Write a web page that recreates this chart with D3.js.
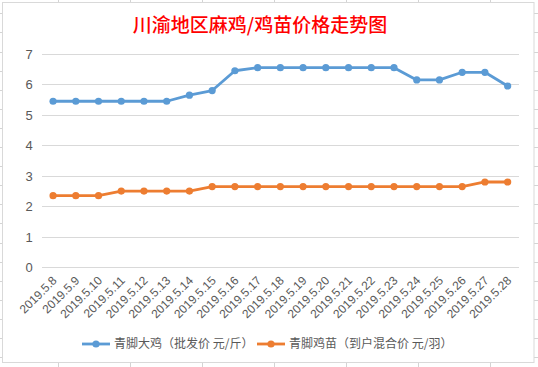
<!DOCTYPE html>
<html><head><meta charset="utf-8">
<script src="https://cdn.jsdelivr.net/npm/d3@7"></script>
<style>html,body{margin:0;padding:0;background:#fff;}svg{display:block;}</style>
</head><body>
<script>
const title = "川渝地区麻鸡/鸡苗价格走势图";
const categories = ["2019.5.8","2019.5.9","2019.5.10","2019.5.11","2019.5.12","2019.5.13","2019.5.14","2019.5.15","2019.5.16","2019.5.17","2019.5.18","2019.5.19","2019.5.20","2019.5.21","2019.5.22","2019.5.23","2019.5.24","2019.5.25","2019.5.26","2019.5.27","2019.5.28"];
const seriesNames = ["青脚大鸡（批发价 元/斤）","青脚鸡苗（到户混合价 元/羽）"];
const bigChicken = [5.45,5.45,5.45,5.45,5.45,5.45,5.65,5.8,6.45,6.55,6.55,6.55,6.55,6.55,6.55,6.55,6.15,6.15,6.4,6.4,5.95];
const chicks = [2.35,2.35,2.35,2.5,2.5,2.5,2.5,2.65,2.65,2.65,2.65,2.65,2.65,2.65,2.65,2.65,2.65,2.65,2.65,2.8,2.8];
const yTicks = [0,1,2,3,4,5,6,7];
const colors = ["#5b9bd5","#ed7d31"];

const W = 538, H = 367;
const svg = d3.select("body").append("svg").attr("width", W).attr("height", H);

// spreadsheet background grid
const bg = svg.append("g");
for (let k = 0; 58.3 + k*71.95 < W; k++) {
  const x = Math.round(58.3 + k*71.95) + 0.5;
  bg.append("line").attr("x1", x).attr("x2", x).attr("y1", 0).attr("y2", H).attr("stroke", "#d4d4d4");
}
for (let k = 0; 13.3 + k*19.1 < H; k++) {
  const y = Math.round(13.3 + k*19.1) + 0.5;
  bg.append("line").attr("x1", 0).attr("x2", W).attr("y1", y).attr("y2", y).attr("stroke", "#d4d4d4");
}
svg.append("rect").attr("x", 2.5).attr("y", 2.5).attr("width", 531.5).attr("height", 360)
  .attr("fill", "#fff").attr("stroke", "#d9d9d9");

const x = d3.scalePoint().domain(categories).range([41.7, 519]).padding(0.5);
const y = d3.scaleLinear().domain([0, 7]).range([267.3, 54]);

// title
svg.append("text").attr("x", 260).attr("y", 32).attr("text-anchor", "middle")
  .attr("font-family", "Noto Sans CJK SC").attr("font-size", 19).attr("font-weight", 500)
  .attr("fill", "#ff0000").text(title);

// gridlines + y labels
const yAxis = d3.axisLeft(y).tickValues(yTicks).tickFormat(d3.format("d")).tickSize(-(519 - 41.7)).tickPadding(9);
const gy = svg.append("g").attr("transform", "translate(41.7,0)").call(yAxis);
gy.select(".domain").remove();
gy.selectAll(".tick line").attr("stroke", "#d9d9d9").attr("shape-rendering", "crispEdges");
gy.selectAll(".tick text").attr("fill", "#595959").attr("font-size", 13)
  .attr("font-family", "Liberation Sans, Arial, sans-serif");

// x labels
const xAxis = d3.axisBottom(x).tickSize(0).tickPadding(0);
const gx = svg.append("g").attr("transform", "translate(0,267.3)").call(xAxis);
gx.select(".domain").remove();
gx.selectAll(".tick text")
  .attr("fill", "#595959").attr("font-size", 12).attr("font-family", "Liberation Sans, Arial, sans-serif")
  .attr("text-anchor", "end").attr("dy", "0.35em")
  .attr("transform", "translate(1,11) rotate(-45)").attr("y", 0);

// series
const series = [bigChicken, chicks];
const line = d3.line().x((d, i) => x(categories[i])).y(d => y(d));
series.forEach((vals, si) => {
  svg.append("path").datum(vals).attr("d", line).attr("fill", "none")
    .attr("stroke", colors[si]).attr("stroke-width", 2.8).attr("stroke-linejoin", "round");
  svg.append("g").selectAll("circle").data(vals).join("circle")
    .attr("cx", (d, i) => x(categories[i])).attr("cy", d => y(d)).attr("r", 3.6)
    .attr("fill", colors[si]);
});

// legend
const legendX = [82, 257];
const legendY = 344;
seriesNames.forEach((name, si) => {
  const g = svg.append("g").attr("transform", `translate(${legendX[si]},${legendY})`);
  g.append("line").attr("x1", 0).attr("x2", 28).attr("y1", 0).attr("y2", 0)
    .attr("stroke", colors[si]).attr("stroke-width", 2.8);
  g.append("circle").attr("cx", 14).attr("cy", 0).attr("r", 3.6).attr("fill", colors[si]);
  g.append("text").attr("x", 32).attr("y", 0).attr("dy", "0.36em")
    .attr("font-family", "Noto Sans CJK SC").attr("font-size", 12).attr("fill", "#595959").text(name);
});
</script>
</body></html>
